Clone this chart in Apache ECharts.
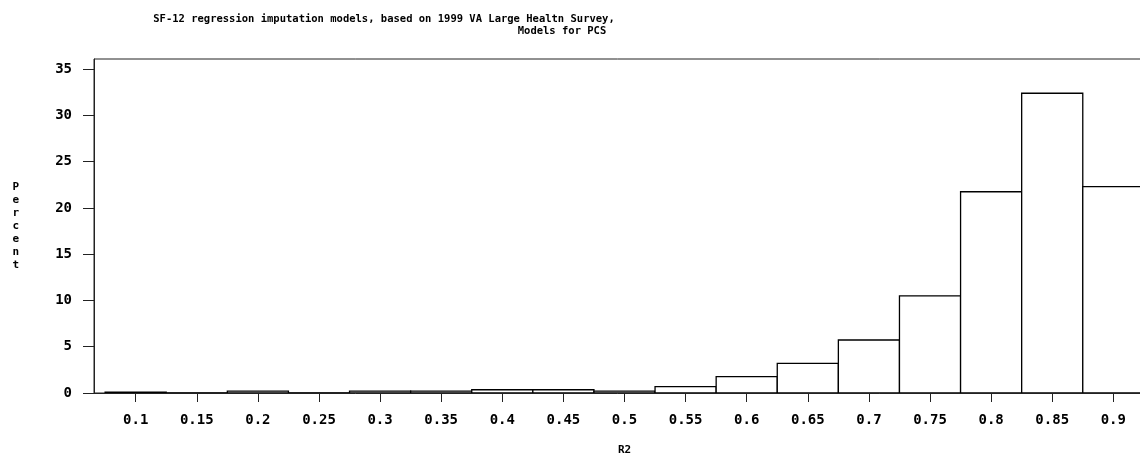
<!DOCTYPE html>
<html>
<head>
<meta charset="utf-8">
<script src="https://cdn.jsdelivr.net/npm/echarts@6/dist/echarts.min.js"></script>
<style>
  html, body { margin: 0; padding: 0; background: #fff; }
  #chart { width: 1140px; height: 455px; }
</style>
</head>
<body>
<div id="chart"></div>
<script>
// bin midpoints of R2 and percent of models in each bin
const binCenters = [0.1, 0.15, 0.2, 0.25, 0.3, 0.35, 0.4, 0.45, 0.5, 0.55, 0.6, 0.65, 0.7, 0.75, 0.8, 0.85, 0.9]
const percents = [0.1, 0, 0.2, 0, 0.2, 0.2, 0.35, 0.35, 0.2, 0.68, 1.77, 3.2, 5.73, 10.5, 21.75, 32.4, 22.3]
const xTickLabels = ['0.1', '0.15', '0.2', '0.25', '0.3', '0.35', '0.4', '0.45', '0.5', '0.55', '0.6', '0.65', '0.7', '0.75', '0.8', '0.85', '0.9']
const yTicks = [0, 5, 10, 15, 20, 25, 30, 35]
const binWidth = 0.05

const chart = echarts.init(document.getElementById('chart'))

const mono = 'DejaVu Sans Mono'

const option = {
  animation: false,
  title: [
    {
      text: 'SF-12 regression imputation models, based on 1999 VA Large Healtn Survey,',
      left: 379,
      top: 9,
      textAlign: 'center',
      textStyle: { fontFamily: mono, fontSize: 10.5, fontWeight: 'bold', color: '#000' }
    },
    {
      text: 'Models for PCS',
      left: 557,
      top: 21,
      textAlign: 'center',
      textStyle: { fontFamily: mono, fontSize: 10.5, fontWeight: 'bold', color: '#000' }
    }
  ],
  grid: {
    left: 94,
    top: 59,
    width: 1061,
    height: 334,
    outerBoundsMode: 'none',
    containLabel: false,
    show: true,
    borderColor: '#222',
    borderWidth: 1
  },
  xAxis: {
    type: 'value',
    min: 0.0659,
    max: 0.9341,
    name: 'R2',
    nameLocation: 'middle',
    nameGap: 52,
    nameTextStyle: { fontFamily: mono, fontSize: 11, fontWeight: 'bold', color: '#000' },
    axisLine: { lineStyle: { color: '#222', width: 1 } },
    axisTick: {
      customValues: binCenters,
      length: 9,
      lineStyle: { color: '#222', width: 1 }
    },
    axisLabel: {
      customValues: binCenters,
      margin: 20,
      fontFamily: mono,
      fontSize: 14,
      fontWeight: 'bold',
      color: '#000',
      formatter: function (v) {
        const i = binCenters.findIndex(c => Math.abs(c - v) < 1e-6)
        return i >= 0 ? xTickLabels[i] : ''
      }
    },
    splitLine: { show: false }
  },
  yAxis: {
    type: 'value',
    min: 0,
    max: 36.1,
    name: 'Percent'.split('').join('\n'),
    nameLocation: 'middle',
    nameRotate: 0,
    nameGap: 75,
    nameTextStyle: { fontFamily: mono, fontSize: 11, fontWeight: 'bold', color: '#000', lineHeight: 13 },
    axisLine: { show: true, lineStyle: { color: '#222', width: 1 } },
    axisTick: {
      show: true,
      customValues: yTicks,
      length: 11,
      lineStyle: { color: '#222', width: 1 }
    },
    axisLabel: {
      customValues: yTicks,
      margin: 22,
      fontFamily: mono,
      fontSize: 14,
      fontWeight: 'bold',
      color: '#000'
    },
    splitLine: { show: false }
  },
  series: [
    {
      type: 'custom',
      clip: true,
      data: binCenters.map((c, i) => [c, percents[i]]),
      renderItem: function (params, api) {
        const c = api.value(0)
        const v = api.value(1)
        const p0 = api.coord([c - binWidth / 2, v])
        const p1 = api.coord([c + binWidth / 2, 0])
        return {
          type: 'rect',
          shape: { x: p0[0], y: p0[1], width: p1[0] - p0[0], height: p1[1] - p0[1] },
          style: { fill: '#fff', stroke: '#000', lineWidth: 1.3 }
        }
      }
    }
  ]
}

chart.setOption(option)
</script>
</body>
</html>
